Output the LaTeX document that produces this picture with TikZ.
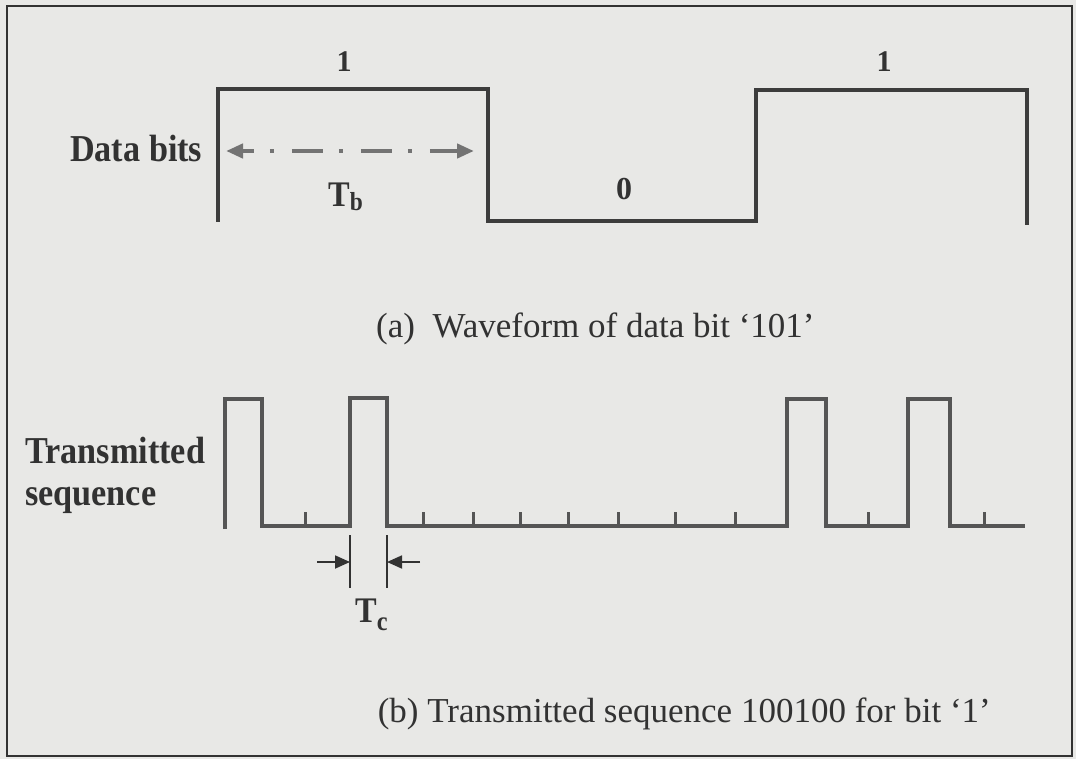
\documentclass[tikz,border=0pt]{standalone}
\usepackage{fontspec}
\setmainfont{Liberation Serif}
\newfontfamily\lblfont[FakeStretch=0.9]{Liberation Serif}
\usetikzlibrary{arrows.meta}
\definecolor{paper}{RGB}{232,232,230}
\definecolor{ink}{RGB}{50,50,50}
\definecolor{wave}{RGB}{60,60,60}
\definecolor{wavetwo}{RGB}{85,85,85}
\definecolor{dashgray}{RGB}{115,115,115}
\begin{document}
\begin{tikzpicture}[x=1pt,y=-1pt,
  lbl/.style={font=\lblfont\fontsize{38}{40}\selectfont\bfseries, text=ink, inner sep=0pt},
  bitlbl/.style={font=\fontsize{30}{32}\selectfont\bfseries, text=ink, inner sep=0pt},
  captext/.style={font=\fontsize{35}{40}\selectfont, text=ink, inner sep=0pt},
  wavepath/.style={draw=wave, line width=4pt, line join=miter},
  seqpath/.style={draw=wavetwo, line width=4pt, line join=miter},
  tickmark/.style={draw=wavetwo, line width=3pt},
  dimline/.style={draw=ink, line width=1.8pt},
  dimarrow/.style={draw=ink, line width=1.8pt, -{Triangle[length=15pt,width=13pt]}}]
\fill[paper] (0,0) rectangle (1076,759);
\useasboundingbox (0,0) rectangle (1076,759);
\draw[ink, line width=2pt] (7,6) rectangle (1072,756);

% (a) data waveform
\draw[wavepath] (218,222) -- (218,89) -- (488,89) -- (488,221) -- (756,221) -- (756,90) -- (1027,90) -- (1027,225);
\node[bitlbl, anchor=base] (one1) at (344,72) {1};
\node[bitlbl, font=\fontsize{32}{34}\selectfont\bfseries, anchor=base] (zero) at (624,200) {0};
\node[bitlbl, anchor=base] (one2) at (884,72) {1};
\node[lbl, anchor=base west] (databits) at (70,162) {Data bits};
\coordinate (tbl) at (226,151);
\coordinate (tbr) at (474,151);
\draw[dashgray, line width=4.5pt, dash pattern=on 12pt off 16pt on 4pt off 18pt on 19pt off 0pt,
  {Triangle[length=17pt,width=14pt]}-{Triangle[length=17pt,width=14pt]}] (tbl) -- (tbr);
\node[lbl, font=\lblfont\fontsize{36}{40}\selectfont\bfseries, anchor=base west] (tb) at (328,207) {T\raisebox{-4pt}{\fontsize{26}{26}\selectfont b}};
\node[captext, anchor=base west] (capa) at (376,337) {(a)\ \ Waveform of data bit ‘101’};

% (b) transmitted sequence
\draw[seqpath] (225,529) -- (225,399) -- (262,399) -- (262,526) -- (350,526) -- (350,398) -- (387,398) -- (387,526)
  -- (787,526) -- (787,399) -- (826,399) -- (826,526) -- (908,526) -- (908,399) -- (950,399) -- (950,526) -- (1025,526);
\foreach \x in {305,423,473,520,568,618,675,735,868,984}
  \draw[tickmark] (\x,526) -- (\x,512);
\node[lbl, anchor=base west] (tx1) at (25,463) {Transmitted};
\node[lbl, anchor=base west] (tx2) at (25,505) {sequence};

\coordinate (tca) at (350,535);
\coordinate (tcb) at (350,588);
\coordinate (tcc) at (387,535);
\coordinate (tcd) at (387,588);
\draw[dimline] (tca) -- (tcb);
\draw[dimline] (tcc) -- (tcd);
\coordinate (tcls) at (317,562);
\coordinate (tcle) at (350,562);
\coordinate (tcrs) at (420,562);
\coordinate (tcre) at (387,562);
\draw[dimarrow] (tcls) -- (tcle);
\draw[dimarrow] (tcrs) -- (tcre);
\node[lbl, font=\lblfont\fontsize{36}{40}\selectfont\bfseries, anchor=base west] (tc) at (355,622) {T\raisebox{-8pt}{\fontsize{27}{27}\selectfont c}};
\node[captext, anchor=base east] (capb) at (991,722) {(b) Transmitted sequence 100100 for bit ‘1’};
\end{tikzpicture}
\end{document}
